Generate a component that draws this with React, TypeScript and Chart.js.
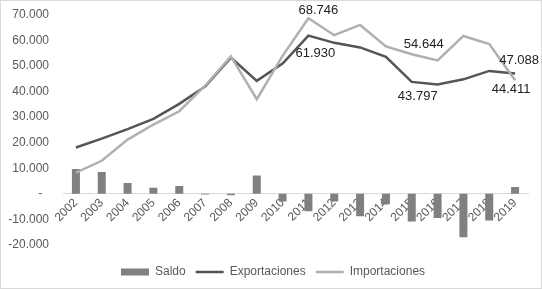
import React, { useEffect, useRef } from "react";
import { Chart, registerables } from "chart.js";

Chart.register(...registerables);

const years = ["2002","2003","2004","2005","2006","2007","2008","2009","2010","2011","2012","2013","2014","2015","2016","2017","2018","2019"];
const exportaciones = [18100, 21600, 25300, 29300, 35200, 42000, 53300, 44200, 51000, 61930, 59100, 57300, 53600, 43797, 42800, 44800, 48100, 47088];
const importaciones = [8300, 12900, 21200, 27100, 32300, 42300, 53800, 37000, 54000, 68746, 62100, 66100, 57700, 54644, 52200, 61800, 58600, 44411];
const saldo = [9700, 8500, 4200, 2300, 3000, -300, -600, 7100, -3000, -6816, -3000, -8800, -4100, -10847, -9500, -17000, -10500, 2677];
const yTicks = [-20000, -10000, 0, 10000, 20000, 30000, 40000, 50000, 60000, 70000];

// data labels: [datasetIndex, pointIndex, dx, dy]
const labelSpecs: [number, number, number, number][] = [
  [2, 9, 10, -8],
  [1, 9, 7, 18],
  [2, 13, 12, -10],
  [1, 13, 6, 15],
  [1, 17, 4, -13],
  [2, 17, -4, 9],
];

const fmt = (v: number) => {
  if (v === 0) return "-  ";
  const s = Math.abs(Math.round(v)).toString().replace(/\B(?=(\d{3})+(?!\d))/g, ".");
  return (v < 0 ? "-" : "") + s;
};

const FONT = "Arial, 'Liberation Sans', sans-serif";

export default function App() {
  const ref = useRef<HTMLCanvasElement | null>(null);
  useEffect(() => {
    if (!ref.current) return;
    const borderPlugin = {
      id: "border",
      afterLayout(chart: any) {
        if (chart.legend) {
          chart.legend.left += 8;
          chart.legend.right += 8;
        }
      },
      beforeDraw(chart: any) {
        const c = chart.ctx;
        c.save();
        c.fillStyle = "#ffffff";
        c.fillRect(0, 0, chart.width, chart.height);
        c.strokeStyle = "#d9d9d9";
        c.lineWidth = 1;
        c.strokeRect(0.5, 0.5, chart.width - 1, chart.height - 1);
        c.restore();
      },
    };
    const labelPlugin = {
      id: "dataLabels",
      afterDatasetsDraw(chart: any) {
        const c = chart.ctx;
        c.save();
        c.font = `13px ${FONT}`;
        c.fillStyle = "#222222";
        c.textAlign = "center";
        c.textBaseline = "middle";
        for (const [di, pi, dx, dy] of labelSpecs) {
          const el = chart.getDatasetMeta(di).data[pi];
          const v = chart.data.datasets[di].data[pi] as number;
          c.fillText(fmt(v), el.x + dx, el.y + dy);
        }
        c.restore();
      },
    };
    const chart = new Chart(ref.current, {
      type: "bar",
      data: {
        labels: years,
        datasets: [
          {
            type: "bar",
            label: "Saldo",
            data: saldo,
            backgroundColor: "#808080",
            barPercentage: 0.31,
            categoryPercentage: 1,
            pointStyle: "rect",
            order: 3,
          },
          {
            type: "line",
            label: "Exportaciones",
            data: exportaciones,
            borderColor: "#555555",
            backgroundColor: "#555555",
            borderWidth: 2.5,
            pointRadius: 0,
            pointStyle: "line",
            tension: 0,
            order: 2,
          },
          {
            type: "line",
            label: "Importaciones",
            data: importaciones,
            borderColor: "#b0b0b0",
            backgroundColor: "#b0b0b0",
            borderWidth: 2.5,
            pointRadius: 0,
            pointStyle: "line",
            tension: 0,
            order: 1,
          },
        ] as any,
      },
      options: {
        animation: false,
        responsive: false,
        layout: { padding: { left: 2, right: 14, top: 15, bottom: 1 } },
        plugins: {
          tooltip: { enabled: false },
          legend: {
            position: "bottom",
            title: { display: true, text: "", font: { size: 1 }, padding: { top: 0, bottom: 10 } },
            labels: {
              usePointStyle: true,
              pointStyleWidth: 28,
              boxHeight: 7,
              color: "#595959",
              font: { family: FONT, size: 12 },
              padding: 10,
              sort: (a: any, b: any) => a.datasetIndex - b.datasetIndex,
            },
          },
        },
        scales: {
          x: {
            position: { y: 0 } as any,
            grid: { display: false, drawTicks: false },
            border: { display: true, color: "#d9d9d9", width: 1 },
            ticks: {
              color: "#595959",
              font: { family: FONT, size: 12 },
              maxRotation: 45,
              minRotation: 45,
              autoSkip: false,
              padding: 2,
            },
          },
          y: {
            min: -20000,
            max: 70000,
            afterBuildTicks: (axis: any) => {
              axis.ticks = yTicks.map((v) => ({ value: v }));
            },
            afterFit: (axis: any) => {
              axis.width = 61;
              axis.paddingTop = 0;
              axis.paddingBottom = 0;
            },
            grid: { display: false, drawTicks: false },
            border: { display: false },
            ticks: {
              color: "#595959",
              font: { family: FONT, size: 12 },
              padding: 14,
              callback: (v: any) => fmt(Number(v)),
            },
          },
        },
      },
      plugins: [borderPlugin, labelPlugin],
    });
    return () => chart.destroy();
  }, []);
  return (
    <div style={{ position: "fixed", left: 0, top: 0, width: 542, height: 289 }}>
      <canvas ref={ref} width={542} height={289} style={{ display: "block" }} />
    </div>
  );
}
